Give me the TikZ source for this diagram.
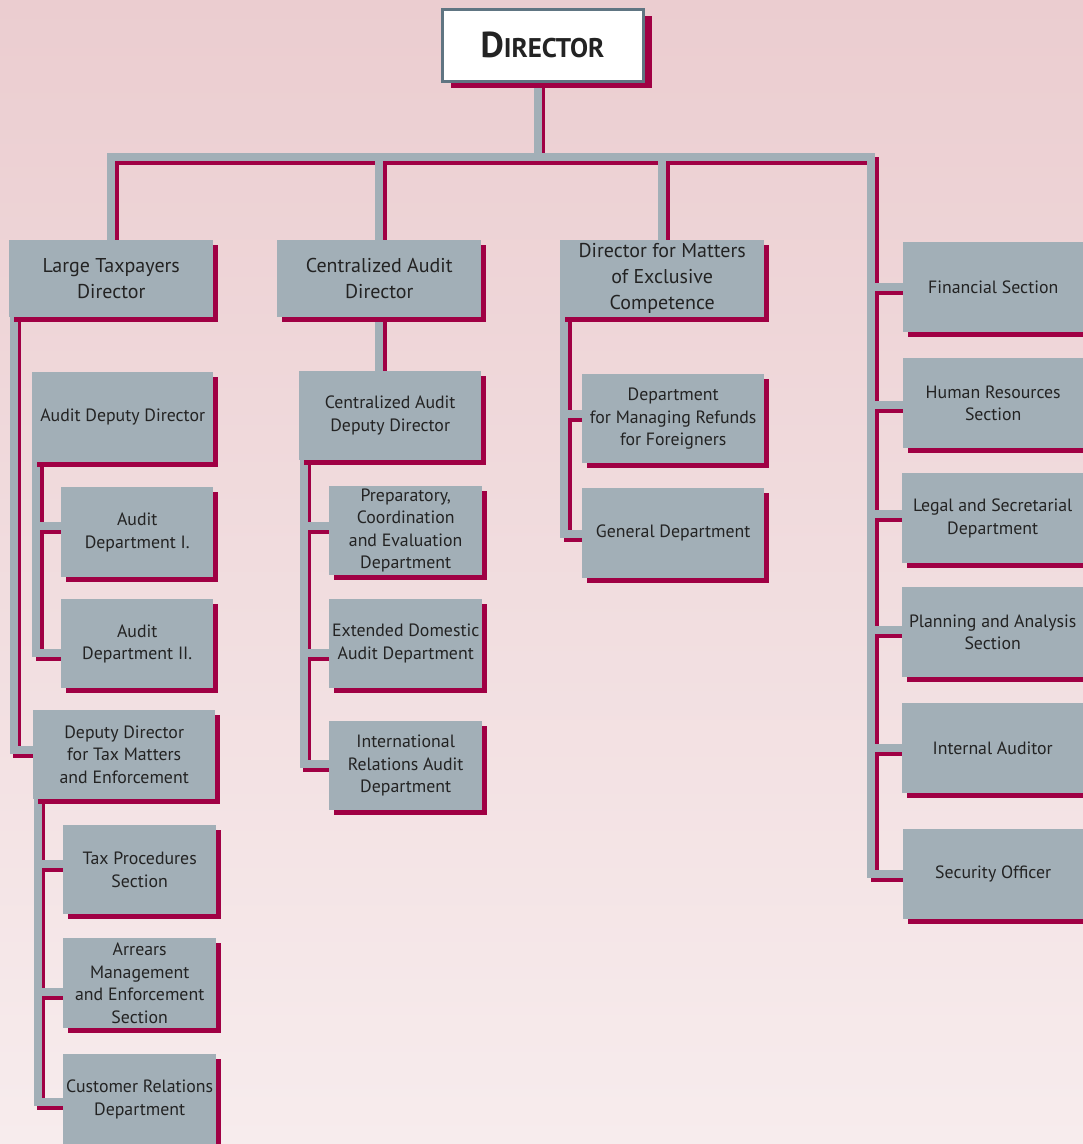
\documentclass[tikz,border=0pt]{standalone}
\usepackage{fontspec}
\setmainfont{PT Sans}
\usetikzlibrary{calc,shadows}
\definecolor{crim}{RGB}{160,0,68}
\definecolor{boxg}{RGB}{162,175,183}
\definecolor{bordg}{RGB}{96,117,130}
\definecolor{txt}{RGB}{35,35,35}
\definecolor{bgtop}{RGB}{235,205,208}
\definecolor{bgbot}{RGB}{247,236,237}
\pgfdeclarelayer{bglayer}
\pgfdeclarelayer{linelayer}
\pgfsetlayers{bglayer,linelayer,main}
\tikzset{
  box/.style={fill=boxg, text=txt, align=center, inner sep=0pt, anchor=north west,
    drop shadow={shadow xshift=5pt, shadow yshift=-4.5pt, fill=crim, opacity=1},
    font=\fontsize{17.8}{22.5}\selectfont},
  bigbox/.style={box, font=\fontsize{20}{26}\selectfont},
  lineshadow/.style={draw=crim, line width=8pt, line join=miter, transform canvas={shift={(3.5pt,-3.5pt)}}},
  linegray/.style={draw=boxg, line width=8pt, line join=miter},
}
\newcommand\myconns[1]{%
  \draw[#1] (lt.north) |- (busR) |- (so.west);
  \draw[#1] ($(dir.south)+(-5,0)$) -- ($(dir.south |- busR)+(-5,0)$);
  \draw[#1] (ca.north) -- (ca.north |- busR);
  \draw[#1] (dm.north) -- (dm.north |- busR);
  \draw[#1] (busR |- fs.west) -- (fs.west);
  \draw[#1] (busR |- 0,405) -- (hr.west |- 0,405);
  \draw[#1] (busR |- 0,514) -- (lg.west |- 0,514);
  \draw[#1] (busR |- 0,630) -- (pa.west |- 0,630);
  \draw[#1] (busR |- ia.west) -- (ia.west);
  \draw[#1] (ltv) |- (dd.west |- 0,750);
  \draw[#1] (addv) |- (ad2.west |- 0,653);
  \draw[#1] (addv |- 0,526) -- (ad1.west |- 0,526);
  \draw[#1] (ddv) |- (cr.west |- 0,1102);
  \draw[#1] (ddv |- 0,864) -- (tp.west |- 0,864);
  \draw[#1] (ddv |- 0,992) -- (ar.west |- 0,992);
  \draw[#1] (ca.south) -- (ca.south |- cad.north);
  \draw[#1] (cadv) |- (ir.west |- 0,764);
  \draw[#1] (cadv |- 0,526) -- (pe.west |- 0,526);
  \draw[#1] (cadv |- 0,653) -- (ed.west |- 0,653);
  \draw[#1] (dmv) |- (gd.west |- 0,534);
  \draw[#1] (dmv |- 0,414) -- (mr.west |- 0,414);
}
\begin{document}
\begin{tikzpicture}[x=1pt,y=-1pt]
\useasboundingbox (0,0) rectangle (1083,1144);
\clip (0,0) rectangle (1083,1144);
\begin{pgfonlayer}{bglayer}
\shade[top color=bgtop, bottom color=bgbot] (0,0) rectangle (1083,1144);
\end{pgfonlayer}
% director
\node[fill=white, draw=bordg, line width=3pt, anchor=north west, inner sep=0pt,
  minimum width=201pt, minimum height=72pt, text=txt,
  drop shadow={shadow xshift=9pt, shadow yshift=-7pt, fill=crim, opacity=1}]
  (dir) at (440.5,7.5) {\bfseries\fontsize{36}{36}\selectfont D\fontsize{27}{27}\selectfont IRECTOR};
% level 2
\node[bigbox, minimum width=204pt, minimum height=77pt] (lt) at (9,240) {Large Taxpayers\\Director};
\node[bigbox, minimum width=204pt, minimum height=77pt] (ca) at (277,240) {Centralized Audit\\Director};
\node[bigbox, minimum width=204pt, minimum height=77pt] (dm) at (560,240) {Director for Matters\\of Exclusive\\Competence};
% column 1
\node[box, minimum width=181pt, minimum height=90pt] (add) at (32,372) {Audit Deputy Director};
\node[box, minimum width=152pt, minimum height=90pt] (ad1) at (61,487) {Audit\\Department I.};
\node[box, minimum width=152pt, minimum height=89pt] (ad2) at (61,599) {Audit\\Department II.};
\node[box, minimum width=182pt, minimum height=89pt] (dd) at (33,710) {Deputy Director\\for Tax Matters\\and Enforcement};
\node[box, minimum width=153pt, minimum height=89pt] (tp) at (63,825) {Tax Procedures\\Section};
\node[box, minimum width=153pt, minimum height=90pt] (ar) at (63,938) {Arrears\\Management\\and Enforcement\\Section};
\node[box, minimum width=153pt, minimum height=90pt] (cr) at (63,1054) {Customer Relations\\Department};
% column 2
\node[box, minimum width=182pt, minimum height=89pt] (cad) at (299,371) {Centralized Audit\\Deputy Director};
\node[box, minimum width=153pt, minimum height=89pt] (pe) at (329,486) {Preparatory,\\Coordination\\and Evaluation\\Department};
\node[box, minimum width=153pt, minimum height=89pt] (ed) at (329,599) {Extended Domestic\\Audit Department};
\node[box, minimum width=153pt, minimum height=89pt] (ir) at (329,721) {International\\Relations Audit\\Department};
% column 3
\node[box, minimum width=182pt, minimum height=89pt] (mr) at (582,374) {Department\\for Managing Refunds\\for Foreigners};
\node[box, minimum width=182pt, minimum height=90pt] (gd) at (582,488) {General Department};
% right column
\node[box, minimum width=180pt, minimum height=90pt] (fs) at (903,242) {Financial Section};
\node[box, minimum width=180pt, minimum height=90pt] (hr) at (903,358) {Human Resources\\Section};
\node[box, minimum width=181pt, minimum height=90pt] (lg) at (902,473) {Legal and Secretarial\\Department};
\node[box, minimum width=181pt, minimum height=90pt] (pa) at (902,587) {Planning and Analysis\\Section};
\node[box, minimum width=181pt, minimum height=90pt] (ia) at (902,703) {Internal Auditor};
\node[box, minimum width=180pt, minimum height=90pt] (so) at (903,829) {Security Officer};
% coordinates
\coordinate (busR) at (871,157);
\coordinate (ltv) at ($(lt.south west)+(4.5,0)$);
\coordinate (addv) at ($(add.south west)+(4,0)$);
\coordinate (ddv) at ($(dd.south west)+(4.5,0)$);
\coordinate (cadv) at ($(cad.south west)+(4.5,0)$);
\coordinate (dmv) at ($(dm.south west)+(4,0)$);
\begin{pgfonlayer}{linelayer}
\myconns{lineshadow}
\myconns{linegray}
\end{pgfonlayer}
\end{tikzpicture}
\end{document}
